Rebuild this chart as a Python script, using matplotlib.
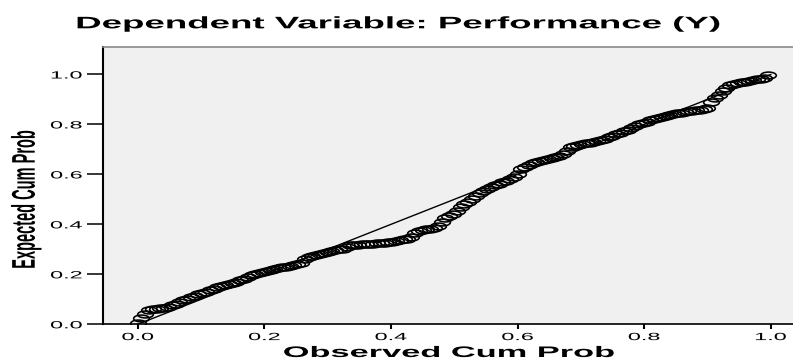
import matplotlib
matplotlib.use("Agg")
import matplotlib.pyplot as plt
from matplotlib.path import Path
from matplotlib.transforms import Affine2D
from matplotlib.patheffects import AbstractPathEffect

# P-P plot of regression residuals
observed = [
    0.000, 0.006, 0.012, 0.018, 0.024, 0.030, 0.036, 0.042, 0.048, 0.054,
    0.060, 0.066, 0.072, 0.078, 0.084, 0.090, 0.096, 0.102, 0.108, 0.114,
    0.120, 0.126, 0.132, 0.138, 0.144, 0.150, 0.156, 0.162, 0.168, 0.174,
    0.180, 0.186, 0.192, 0.198, 0.204, 0.210, 0.216, 0.222, 0.228, 0.234,
    0.240, 0.246, 0.252, 0.258, 0.264, 0.270, 0.276, 0.282, 0.288, 0.294,
    0.300, 0.306, 0.312, 0.318, 0.324, 0.330, 0.336, 0.342, 0.348, 0.354,
    0.360, 0.366, 0.372, 0.378, 0.384, 0.390, 0.396, 0.402, 0.408, 0.414,
    0.420, 0.426, 0.432, 0.438, 0.444, 0.450, 0.456, 0.462, 0.468, 0.474,
    0.480, 0.486, 0.492, 0.498, 0.504, 0.510, 0.516, 0.522, 0.528, 0.534,
    0.540, 0.546, 0.552, 0.558, 0.564, 0.570, 0.576, 0.582, 0.588, 0.594,
    0.600, 0.606, 0.612, 0.618, 0.624, 0.630, 0.636, 0.642, 0.648, 0.654,
    0.660, 0.666, 0.672, 0.678, 0.684, 0.690, 0.696, 0.702, 0.708, 0.714,
    0.720, 0.726, 0.732, 0.738, 0.744, 0.750, 0.756, 0.762, 0.768, 0.774,
    0.780, 0.786, 0.792, 0.798, 0.804, 0.810, 0.816, 0.822, 0.828, 0.834,
    0.840, 0.846, 0.852, 0.858, 0.864, 0.870, 0.876, 0.882, 0.888, 0.894,
    0.900, 0.906, 0.912, 0.918, 0.924, 0.930, 0.936, 0.942, 0.948, 0.954,
    0.960, 0.966, 0.972, 0.978, 0.984, 0.990, 0.996,
]
expected = [
    0.007, 0.024, 0.040, 0.058, 0.062, 0.063, 0.064, 0.066, 0.070, 0.077,
    0.083, 0.089, 0.096, 0.103, 0.109, 0.115, 0.121, 0.126, 0.131, 0.137,
    0.143, 0.148, 0.153, 0.158, 0.163, 0.167, 0.171, 0.176, 0.180, 0.190,
    0.196, 0.201, 0.206, 0.210, 0.214, 0.218, 0.222, 0.225, 0.228, 0.231,
    0.234, 0.238, 0.241, 0.245, 0.262, 0.270, 0.275, 0.279, 0.283, 0.287,
    0.291, 0.294, 0.297, 0.300, 0.303, 0.310, 0.316, 0.318, 0.319, 0.320,
    0.321, 0.322, 0.323, 0.324, 0.325, 0.326, 0.328, 0.330, 0.333, 0.336,
    0.340, 0.342, 0.348, 0.365, 0.375, 0.378, 0.380, 0.383, 0.387, 0.395,
    0.410, 0.425, 0.435, 0.443, 0.455, 0.470, 0.480, 0.490, 0.500, 0.515,
    0.527, 0.534, 0.540, 0.548, 0.556, 0.563, 0.568, 0.573, 0.580, 0.590,
    0.600, 0.620, 0.630, 0.638, 0.645, 0.650, 0.653, 0.656, 0.660, 0.664,
    0.668, 0.672, 0.680, 0.695, 0.708, 0.714, 0.718, 0.721, 0.724, 0.727,
    0.731, 0.735, 0.739, 0.743, 0.748, 0.755, 0.762, 0.767, 0.773, 0.778,
    0.785, 0.793, 0.800, 0.806, 0.811, 0.816, 0.820, 0.825, 0.830, 0.834,
    0.838, 0.841, 0.844, 0.847, 0.850, 0.852, 0.854, 0.856, 0.858, 0.861,
    0.866, 0.890, 0.905, 0.918, 0.932, 0.945, 0.958, 0.963, 0.966, 0.968,
    0.971, 0.974, 0.977, 0.980, 0.983, 0.986, 0.999,
]
diag = [0.0, 1.0]
ticks = [0.0, 0.2, 0.4, 0.6, 0.8, 1.0]
tick_labels = ["0.0", "0.2", "0.4", "0.6", "0.8", "1.0"]


class Stretch(AbstractPathEffect):
    """Widen glyphs sideways, the original export is squeezed out horizontally."""

    def __init__(self, sx=2.25, anchor="center"):
        super().__init__()
        self.sx = sx
        self.anchor = anchor

    def draw_path(self, renderer, gc, tpath, affine, rgbFace=None):
        ext = tpath.get_extents(affine)
        x0 = ext.x1 if self.anchor == "right" else (ext.x0 + ext.x1) / 2
        st = Affine2D().translate(-x0, 0).scale(self.sx, 1).translate(x0, 0)
        renderer.draw_path(gc, tpath, affine + st, rgbFace)


plt.rcParams["font.family"] = ["Liberation Sans", "DejaVu Sans"]

W, H = 793, 360
fig = plt.figure(figsize=(W / 100, H / 100), dpi=100)
ax = fig.add_axes([103 / W, 1 - 324.3 / H, 690 / W, (324.3 - 47) / H])
ax.set_facecolor("#f0f0f0")
ax.set_xlim(-0.0548, 1.0352)
ax.set_ylim(0, 1.11)

ax.spines["right"].set_visible(False)
ax.spines["left"].set_linewidth(1.5)
ax.spines["bottom"].set_linewidth(1.2)
ax.spines["top"].set_color("#888888")
ax.spines["top"].set_linewidth(1.2)

# wide ellipse marker (circles look stretched in the reference)
ellipse = Path.unit_circle().transformed(Affine2D().scale(2.3, 1))

ax.plot(diag, diag, color="black", lw=1.0, zorder=2)
ax.plot(observed, expected, linestyle="none", marker=ellipse, markersize=11.3,
        mfc="none", mec="black", mew=1.15, zorder=3)

ax.set_xticks(ticks)
ax.set_xticklabels(tick_labels)
ax.set_yticks(ticks)
ax.set_yticklabels(tick_labels)
ax.tick_params(axis="y", direction="out", length=11.5, width=1.1, pad=3.6, labelsize=7.5)
ax.tick_params(axis="x", direction="out", length=3.6, width=1.5, pad=2, labelsize=7.5)
for lab in ax.get_yticklabels():
    lab.set_path_effects([Stretch(2.25, "right")])
for lab in ax.get_xticklabels():
    lab.set_path_effects([Stretch(2.25)])

fig.text(398 / W, 1 - 28.3 / H, "Dependent Variable: Performance (Y)",
         ha="center", va="baseline", fontsize=12, fontweight="bold",
         path_effects=[Stretch(2.2)])
fig.text(449 / W, 3 / H, "Observed Cum Prob", ha="center", va="baseline",
         fontsize=11, fontweight="bold", path_effects=[Stretch(2.25)])
fig.text(26 / W, 1 - 199 / H, "Expected Cum Prob", ha="center", va="center",
         rotation=90, fontsize=10.5, fontweight="bold",
         path_effects=[Stretch(2.25)])

fig.savefig("out.png", dpi=100)
